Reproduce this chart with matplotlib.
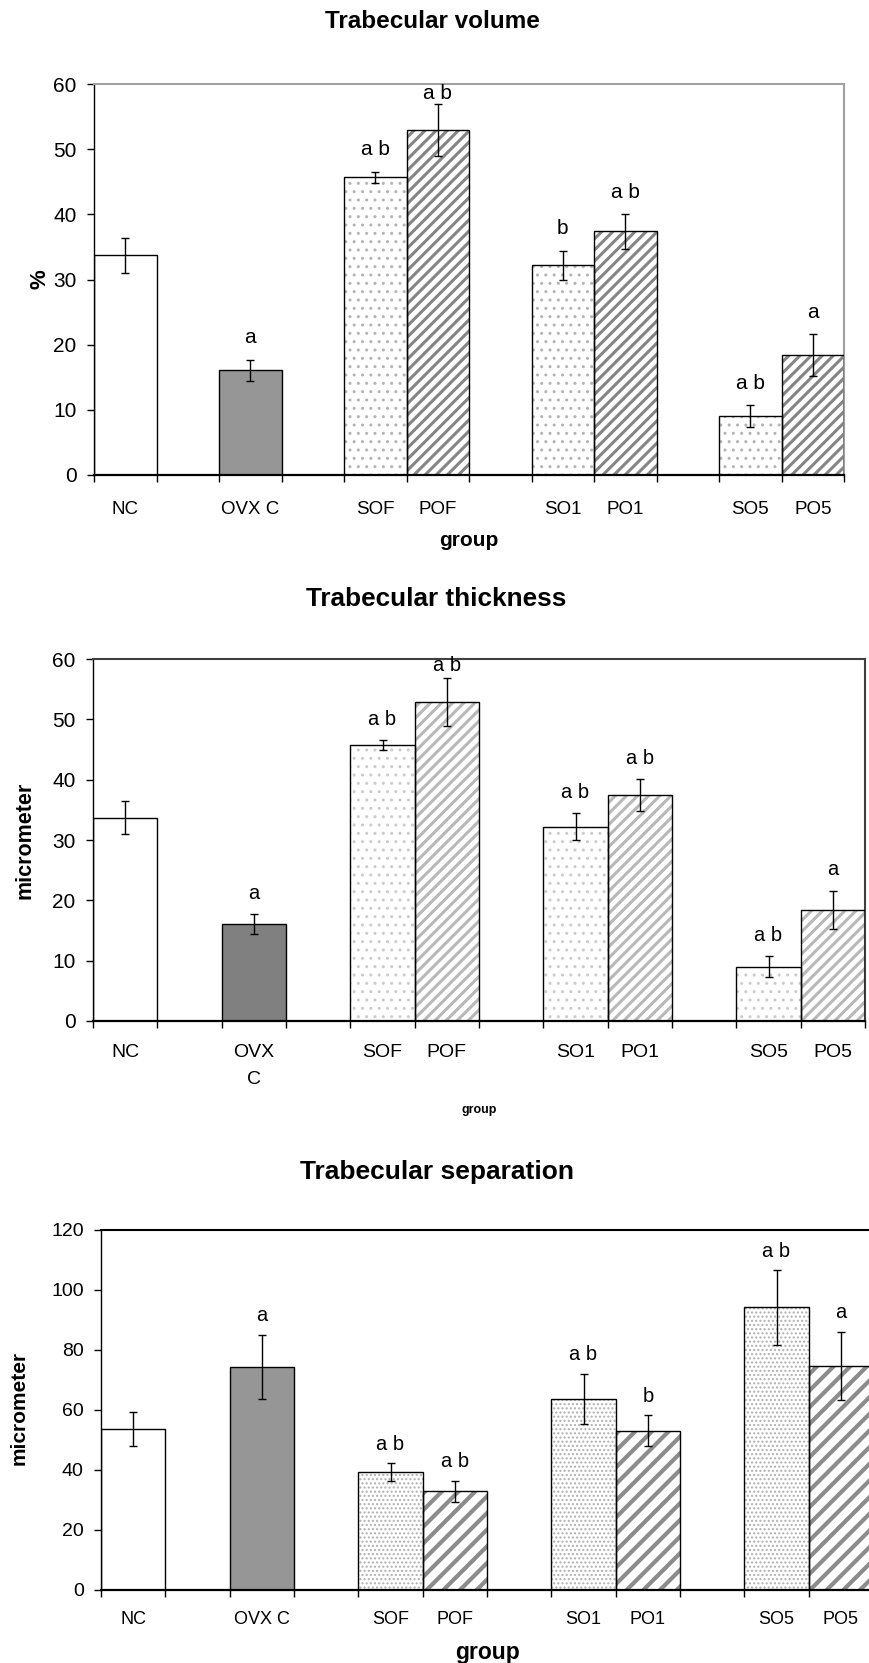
import matplotlib
matplotlib.use('Agg')
import matplotlib.pyplot as plt
from matplotlib import font_manager as fm

W, H = 869, 1663

# ---------------- data ----------------
groups = [['NC'], ['OVX C'], ['SOF', 'POF'], ['SO1', 'PO1'], ['SO5', 'PO5']]
kinds = ['plain', 'solid', 'dots', 'stripes', 'dots', 'stripes', 'dots', 'stripes']

vol_labels = ['NC', 'OVX C', 'SOF', 'POF', 'SO1', 'PO1', 'SO5', 'PO5']
vol_mean = [33.7, 16.1, 45.7, 52.9, 32.2, 37.4, 9.0, 18.4]
vol_err = [2.7, 1.6, 0.85, 4.0, 2.2, 2.65, 1.7, 3.2]
vol_sig = ['', 'a', 'a b', 'a b', 'b', 'a b', 'a b', 'a']

thk_labels = ['NC', 'OVX\nC', 'SOF', 'POF', 'SO1', 'PO1', 'SO5', 'PO5']
thk_mean = [33.7, 16.1, 45.7, 52.9, 32.2, 37.4, 9.0, 18.4]
thk_err = [2.7, 1.6, 0.85, 4.0, 2.2, 2.65, 1.7, 3.2]
thk_sig = ['', 'a', 'a b', 'a b', 'a b', 'a b', 'a b', 'a']

sep_labels = ['NC', 'OVX C', 'SOF', 'POF', 'SO1', 'PO1', 'SO5', 'PO5']
sep_mean = [53.7, 74.4, 39.3, 32.9, 63.6, 53.1, 94.2, 74.7]
sep_err = [5.6, 10.7, 3.0, 3.6, 8.4, 5.2, 12.4, 11.3]
sep_sig = ['', 'a', 'a b', 'a b', 'a b', 'b', 'a b', 'a']

# ---------------- style ----------------
plt.rcParams['font.family'] = ['Liberation Sans', 'DejaVu Sans']
plt.rcParams['hatch.linewidth'] = 2.2

names = {f.name for f in fm.fontManager.ttflist}
NARROW = 'Liberation Sans Narrow' in names

# slot positions derived from group structure (one empty slot between groups)
pos = []
start = 0
for g in groups:
    for i, _ in enumerate(g):
        pos.append(start + i + 0.5)
    start += len(g) + 1
n_slots = start - 1

fig = plt.figure(figsize=(W / 100, H / 100), dpi=100)


def panel(rect, means, errs, sigs, labels, ylim, ystep, st):
    l, r, t, b = rect
    ax = fig.add_axes([l / W, 1 - b / H, (r - l) / W, (b - t) / H])
    for p, m, k in zip(pos, means, kinds):
        if k == 'plain':
            ax.bar(p, m, width=1.0, color='white', edgecolor='black', linewidth=1.0, zorder=2)
        elif k == 'solid':
            ax.bar(p, m, width=1.0, color=st['solid'], edgecolor='black', linewidth=1.0, zorder=2)
        else:
            hatch = st['dot_hatch'] if k == 'dots' else st['stripe_hatch']
            hcol = st['dot_color'] if k == 'dots' else st['stripe_color']
            bars = ax.bar(p, m, width=1.0, color='white', edgecolor=hcol, linewidth=0,
                          hatch=hatch, zorder=2)
            for patch in bars:
                if hasattr(patch, 'set_hatch_linewidth'):
                    patch.set_hatch_linewidth(st['stripe_lw'] if k == 'stripes' else 1.0)
            ax.bar(p, m, width=1.0, fill=False, edgecolor='black', linewidth=1.0, zorder=3)
    ax.errorbar(pos, means, yerr=errs, fmt='none', ecolor='black', elinewidth=1.0,
                capsize=2.6, capthick=1.0, zorder=4)

    ax.set_xlim(0, n_slots)
    ax.set_ylim(0, ylim)
    ax.set_yticks(list(range(0, ylim + 1, ystep)))
    ax.set_xticks(list(range(0, n_slots + 1)))
    ax.set_xticklabels([])
    ax.tick_params(axis='both', direction='out', length=5, width=1.0, color='black')
    ax.tick_params(axis='y', labelsize=st['ytick_size'], pad=7.5)

    ax.spines['left'].set_color('black')
    ax.spines['left'].set_linewidth(1.0)
    ax.spines['bottom'].set_color('black')
    ax.spines['bottom'].set_linewidth(1.6)
    for s in ('top', 'right'):
        ax.spines[s].set_color(st['frame'])
        ax.spines[s].set_linewidth(1.5)
    ax.spines['bottom'].set_zorder(5)

    # category labels
    if NARROW and st['narrow']:
        xfam, xsize = ['Liberation Sans Narrow', 'Liberation Sans'], st['xlab_size']
    else:
        xfam, xsize = ['Liberation Sans', 'DejaVu Sans'], st['xlab_size_reg']
    fpx = xsize / 0.72
    for p, lab in zip(pos, labels):
        ax.annotate(lab, xy=(p, 0), xycoords=('data', 'axes fraction'),
                    xytext=(0, -st['xlab_pad']), textcoords='offset points',
                    ha='center', va='top', fontsize=xsize, family=xfam,
                    linespacing=25 / (0.73 * fpx), annotation_clip=False)

    # significance letters
    px_per_unit = (b - t) / ylim
    off = st['sig_off_px'] / px_per_unit
    for p, m, e, s in zip(pos, means, errs, sigs):
        if s:
            y = min(m + e + off, ylim - st['sig_clamp'])
            ax.text(p, y, s, ha='center', va='center', fontsize=st['sig_size'], zorder=6)
    return ax


st1 = dict(solid='#969696', dot_hatch='..', dot_color='#b4b4b4', stripe_hatch='///',
           stripe_color='#858585', stripe_lw=2.2, frame='#a0a0a0', ytick_size=15,
           narrow=True, xlab_size=14.5, xlab_size_reg=13.5, xlab_pad=18.6,
           sig_off_px=22, sig_clamp=1.4, sig_size=15)
st2 = dict(solid='#808080', dot_hatch='..', dot_color='#cccccc', stripe_hatch='///',
           stripe_color='#b8b8b8', stripe_lw=2.2, frame='#404040', ytick_size=15,
           narrow=True, xlab_size=15, xlab_size_reg=14, xlab_pad=16.9,
           sig_off_px=21, sig_clamp=1.0, sig_size=14.5)
st3 = dict(solid='#969696', dot_hatch='....', dot_color='#b0b0b0', stripe_hatch='//',
           stripe_color='#8c8c8c', stripe_lw=3.0, frame='black', ytick_size=14,
           narrow=False, xlab_size=13, xlab_size_reg=13, xlab_pad=14.8,
           sig_off_px=19, sig_clamp=2.0, sig_size=14.5)

panel((94, 844, 84, 475), vol_mean, vol_err, vol_sig, vol_labels, 60, 10, st1)
panel((93, 865, 659, 1021), thk_mean, thk_err, thk_sig, thk_labels, 60, 10, st2)
panel((101, 873, 1230, 1590), sep_mean, sep_err, sep_sig, sep_labels, 120, 20, st3)


def ftext(x, y, s, **kw):
    fig.text(x / W, 1 - y / H, s, ha='center', va='center', **kw)


# titles
ftext(432, 22, 'Trabecular volume', fontsize=17.5, fontweight='bold')
ftext(436, 599, 'Trabecular thickness', fontsize=18.8, fontweight='bold')
ftext(437, 1172, 'Trabecular separation', fontsize=19, fontweight='bold')

# y labels
ftext(40, 279, '%', fontsize=16, fontweight='bold', rotation=90)
ftext(25, 840, 'micrometer', fontsize=15.5, fontweight='bold', rotation=90)
ftext(19, 1408, 'micrometer', fontsize=15, fontweight='bold', rotation=90)

# x labels
ftext(469, 541, 'group', fontsize=15, fontweight='bold')
ftext(479, 1110, 'group', fontsize=9, fontweight='bold')
ftext(487, 1652, 'group', fontsize=16.5, fontweight='bold')

fig.savefig('out.png', dpi=100)
